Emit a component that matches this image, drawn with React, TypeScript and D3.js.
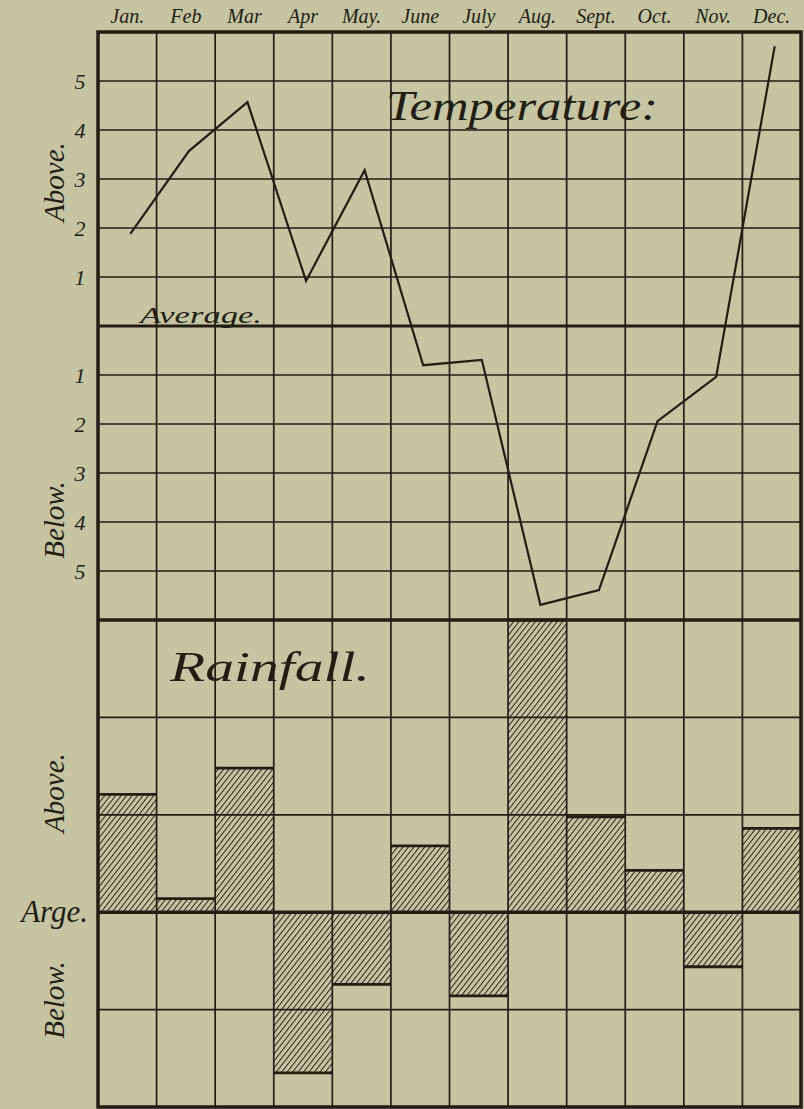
import * as d3 from "d3";

const WIDTH = 804;
const HEIGHT = 1109;
const PAPER = "#c6c4a2";
const INK = "#231d14";
const FONT = "'Liberation Serif', 'DejaVu Serif', serif";

// plot frame
const FRAME = { left: 98, right: 801, top: 32, mid: 620, bottom: 1107 };

const months = ["Jan.", "Feb", "Mar", "Apr", "May.", "June", "July", "Aug.", "Sept.", "Oct.", "Nov.", "Dec."];
// degrees above (+) / below (-) the average
const temperature = [1.88, 3.57, 4.57, 0.92, 3.18, -0.8, -0.69, -5.69, -5.39, -1.94, -1.04, 5.71];
// rainfall above (+) / below (-) the average
const rainfall = [1.21, 0.14, 1.48, -1.65, -0.74, 0.68, -0.86, 3.0, 0.98, 0.43, -0.56, 0.86];

const tempTicks = [5, 4, 3, 2, 1, -1, -2, -3, -4, -5];
const rainTicks = [2, 1, -1];

export default function App() {
  const x = d3.scaleBand<string>().domain(months).range([FRAME.left, FRAME.right]);
  const yTemp = d3.scaleLinear().domain([-6, 6]).range([FRAME.mid, FRAME.top]);
  const yRain = d3.scaleLinear().domain([-2, 3]).range([FRAME.bottom, FRAME.mid]);

  const cx = (m: string) => (x(m) ?? 0) + x.bandwidth() / 2 + 3;

  const linePath = d3
    .line<number>()
    .x((_, i) => cx(months[i]))
    .y((d) => yTemp(d))(temperature);

  const boundaries = months.slice(1).map((m) => x(m) ?? 0);

  return (
    <svg
      width={WIDTH}
      height={HEIGHT}
      style={{ position: "absolute", left: 0, top: 0, display: "block" }}
    >
      <defs>
        <pattern
          id="hatch"
          patternUnits="userSpaceOnUse"
          width={4.3}
          height={4.3}
          patternTransform="rotate(38)"
        >
          <line x1={0} y1={-1} x2={0} y2={6} stroke={INK} strokeWidth={1.9} />
        </pattern>
      </defs>
      <rect width={WIDTH} height={HEIGHT} fill={PAPER} />

      {/* rainfall bars */}
      {rainfall.map((v, i) => {
        const m = months[i];
        const y0 = yRain(0);
        const y1 = yRain(v);
        return (
          <g key={m}>
            <rect
              x={x(m)}
              y={Math.min(y0, y1)}
              width={x.bandwidth()}
              height={Math.abs(y1 - y0)}
              fill="url(#hatch)"
            />
            <line
              x1={x(m)}
              x2={(x(m) ?? 0) + x.bandwidth()}
              y1={y1}
              y2={y1}
              stroke={INK}
              strokeWidth={2.8}
            />
          </g>
        );
      })}

      {/* grid */}
      <g stroke={INK}>
        {boundaries.map((bx, i) => (
          <line key={i} x1={bx} x2={bx} y1={FRAME.top} y2={FRAME.bottom} strokeWidth={1.7} />
        ))}
        {tempTicks.map((t) => (
          <line key={t} x1={FRAME.left} x2={FRAME.right} y1={yTemp(t)} y2={yTemp(t)} strokeWidth={1.7} />
        ))}
        <line x1={FRAME.left} x2={FRAME.right} y1={yTemp(0)} y2={yTemp(0)} strokeWidth={3} />
        {rainTicks.map((t) => (
          <line key={t} x1={FRAME.left} x2={FRAME.right} y1={yRain(t)} y2={yRain(t)} strokeWidth={1.7} />
        ))}
        <line x1={FRAME.left} x2={FRAME.right} y1={yRain(0)} y2={yRain(0)} strokeWidth={3.5} />
        <line x1={FRAME.left} x2={FRAME.right} y1={FRAME.mid} y2={FRAME.mid} strokeWidth={3.5} />
        <rect
          x={FRAME.left}
          y={FRAME.top}
          width={FRAME.right - FRAME.left}
          height={FRAME.bottom - FRAME.top}
          fill="none"
          strokeWidth={3.5}
        />
      </g>

      {/* temperature line */}
      <path d={linePath ?? ""} fill="none" stroke={INK} strokeWidth={2.2} />

      {/* texts */}
      <g fill={INK} fontFamily={FONT} fontStyle="italic">
        {months.map((m) => (
          <text key={m} x={cx(m) - 3} y={23} textAnchor="middle" fontSize={20}>
            {m}
          </text>
        ))}
        {tempTicks.map((t) => (
          <text key={t} x={80} y={yTemp(t)} dy="0.35em" textAnchor="middle" fontSize={22}>
            {Math.abs(t)}
          </text>
        ))}
        <text x={140} y={323} fontSize={23} textLength={122} lengthAdjust="spacingAndGlyphs">
          Average.
        </text>
        <text transform="translate(64,182) rotate(-90)" textAnchor="middle" fontSize={29}>
          Above.
        </text>
        <text transform="translate(64,520) rotate(-90)" textAnchor="middle" fontSize={29}>
          Below.
        </text>
        <text x={386} y={120} fontSize={42} textLength={272} lengthAdjust="spacingAndGlyphs">
          Temperature:
        </text>
        <text x={170} y={681} fontSize={42} textLength={200} lengthAdjust="spacingAndGlyphs">
          Rainfall.
        </text>
        <text transform="translate(64,793) rotate(-90)" textAnchor="middle" fontSize={29}>
          Above.
        </text>
        <text x={88} y={yRain(0)} dy="0.32em" textAnchor="end" fontSize={31}>
          Arge.
        </text>
        <text transform="translate(64,1000) rotate(-90)" textAnchor="middle" fontSize={29}>
          Below.
        </text>
      </g>
    </svg>
  );
}
